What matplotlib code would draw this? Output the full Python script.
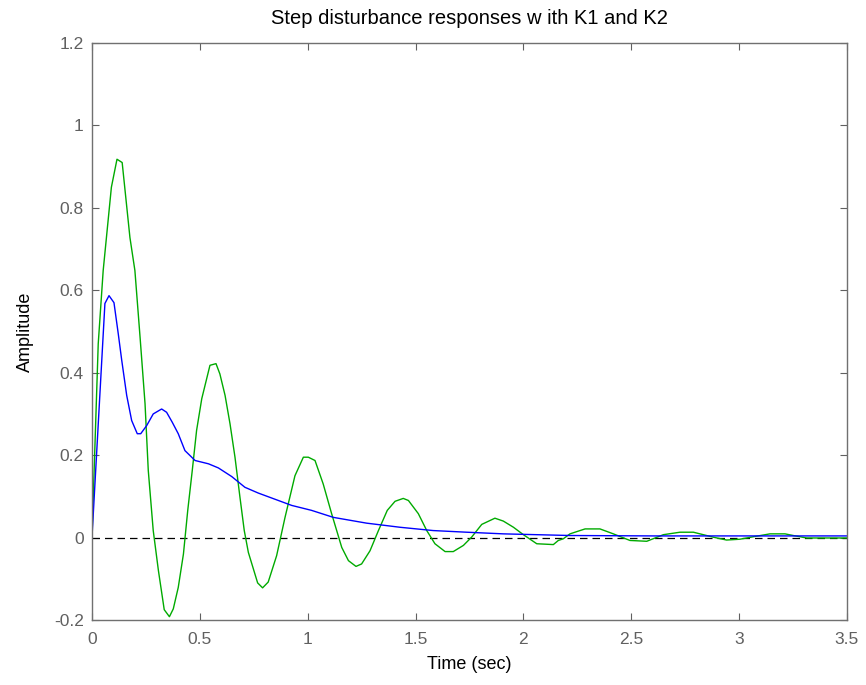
import numpy as np
import matplotlib
matplotlib.use("Agg")
import matplotlib.pyplot as plt

plt.rcParams['font.family'] = ['Liberation Sans', 'DejaVu Sans']

# blue response (K1)
t_k1 = [0, 0.06, 0.079, 0.102, 0.122, 0.138, 0.161, 0.184, 0.21, 0.226, 0.254,
        0.284, 0.323, 0.346, 0.372, 0.40, 0.431, 0.478, 0.54, 0.586, 0.648,
        0.709, 0.771, 0.864, 0.926, 1.018, 1.119, 1.273, 1.428, 1.582, 1.737,
        1.907, 2.216, 2.6, 3.0, 3.5]
y_k1 = [0, 0.568, 0.587, 0.570, 0.494, 0.43, 0.345, 0.284, 0.252, 0.252, 0.272,
        0.30, 0.312, 0.304, 0.28, 0.252, 0.211, 0.187, 0.179, 0.169, 0.148,
        0.122, 0.108, 0.090, 0.078, 0.066, 0.049, 0.035, 0.025, 0.017, 0.013,
        0.009, 0.005, 0.004, 0.004, 0.004]

# green response (K2)
t_k2 = [0, 0.029, 0.052, 0.09, 0.116, 0.14, 0.176, 0.199, 0.223, 0.246, 0.261,
        0.284, 0.308, 0.335, 0.359, 0.377, 0.400, 0.424, 0.444, 0.465, 0.485,
        0.509, 0.547, 0.575, 0.593, 0.617, 0.640, 0.663, 0.686, 0.706, 0.725,
        0.768, 0.791, 0.817, 0.856, 0.895, 0.941, 0.980, 1.003, 1.034, 1.072,
        1.111, 1.158, 1.189, 1.224, 1.250, 1.289, 1.328, 1.369, 1.405, 1.443,
        1.467, 1.490, 1.513, 1.552, 1.590, 1.637, 1.675, 1.722, 1.760, 1.807,
        1.868, 1.907, 1.954, 2.0, 2.062, 2.139, 2.162, 2.185, 2.216, 2.286,
        2.355, 2.417, 2.494, 2.572, 2.649, 2.726, 2.788, 2.880, 2.942, 3.004,
        3.066, 3.143, 3.213, 3.251, 3.313, 3.5]
y_k2 = [0, 0.47, 0.648, 0.85, 0.918, 0.91, 0.728, 0.648, 0.486, 0.325, 0.163,
        0.017, -0.08, -0.175, -0.192, -0.173, -0.121, -0.040, 0.066, 0.163, 0.26,
        0.337, 0.418, 0.422, 0.397, 0.345, 0.276, 0.195, 0.098, 0.017, -0.036,
        -0.110, -0.122, -0.108, -0.044, 0.049, 0.150, 0.195, 0.195, 0.187, 0.130,
        0.058, -0.024, -0.056, -0.070, -0.064, -0.032, 0.017, 0.066, 0.088, 0.095,
        0.090, 0.074, 0.058, 0.017, -0.015, -0.034, -0.034, -0.019, 0.001, 0.032,
        0.047, 0.040, 0.025, 0.007, -0.015, -0.017, -0.007, -0.003, 0.009, 0.021,
        0.021, 0.009, -0.007, -0.009, 0.007, 0.013, 0.013, 0.001, -0.006, -0.004,
        0.002, 0.009, 0.009, 0.005, -0.001, -0.001]

xticks = [0, 0.5, 1, 1.5, 2, 2.5, 3, 3.5]
xlabels = ['0', '0.5', '1', '1.5', '2', '2.5', '3', '3.5']
yticks = [-0.2, 0, 0.2, 0.4, 0.6, 0.8, 1, 1.2]
ylabels = ['-0.2', '0', '0.2', '0.4', '0.6', '0.8', '1', '1.2']

fig = plt.figure(figsize=(8.66, 6.85), dpi=100)
ax = fig.add_axes([0.1062, 0.0949, 0.8718, 0.8423])

ax.plot([0, 3.5], [0, 0], color='black', linestyle=(0, (6, 4)), linewidth=0.9)
ax.plot(t_k2, y_k2, color='#00aa00', linewidth=1.0)
ax.plot(t_k1, y_k1, color='#0000ff', linewidth=1.0)

ax.set_xlim(0, 3.5)
ax.set_ylim(-0.2, 1.2)
ax.set_xticks(xticks)
ax.set_xticklabels(xlabels)
ax.set_yticks(yticks)
ax.set_yticklabels(ylabels)
ax.tick_params(direction='in', top=True, right=True, length=5, width=0.8,
               colors='#606060', labelsize=12.5)
ax.tick_params(axis='x', pad=9)
ax.tick_params(axis='y', pad=6)
for s in ax.spines.values():
    s.set_color('#707070')
    s.set_linewidth(1.0)

ax.set_title('Step disturbance responses w ith K1 and K2', fontsize=14.5, pad=14)
ax.set_xlabel('Time (sec)', fontsize=13, labelpad=6)
ax.set_ylabel('Amplitude', fontsize=13, labelpad=14)

fig.savefig('out.png', dpi=100)
